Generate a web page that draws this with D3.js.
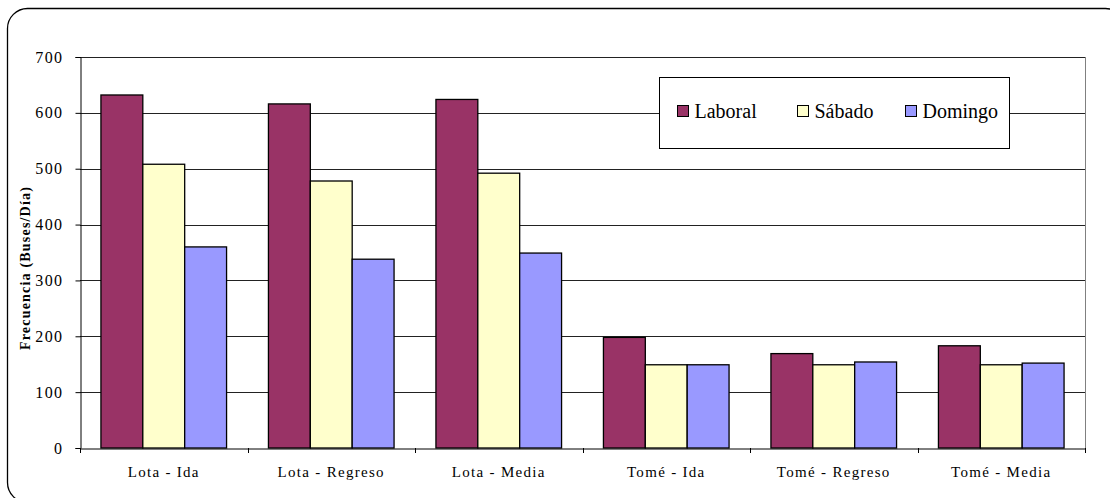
<!DOCTYPE html>
<html>
<head>
<meta charset="utf-8">
<script src="https://cdn.jsdelivr.net/npm/d3@7"></script>
<style>
  body { margin: 0; background: #fff; }
</style>
</head>
<body>
<div id="chart"></div>
<script>
    var categories = ["Lota - Ida", "Lota - Regreso", "Lota - Media", "Tomé - Ida", "Tomé - Regreso", "Tomé - Media"];
    var seriesNames = ["Laboral", "Sábado", "Domingo"];
    var laboral = [632, 616, 624, 198, 169, 183];
    var sabado = [508, 478, 492, 149, 149, 149];
    var domingo = [360, 338, 349, 149, 154, 152];
    var yTicks = [0, 100, 200, 300, 400, 500, 600, 700];
    var colors = ["#993366", "#FFFFCC", "#9999FF"];

    var serif = "'Liberation Serif', 'Times New Roman', serif";
    var width = 1110, height = 498;
    var margin = { left: 80, right: 25, top: 57, bottom: 50 };

    var svg = d3.select("#chart").append("svg")
        .attr("width", width)
        .attr("height", height);

    // chart frame (rounded, runs off right and bottom)
    svg.append("rect")
        .attr("x", 7.5).attr("y", 8.5)
        .attr("width", 1118).attr("height", 494)
        .attr("rx", 20).attr("ry", 20)
        .attr("fill", "none").attr("stroke", "#000").attr("stroke-width", 1.3);

    var x0 = d3.scaleBand().domain(categories).range([margin.left, width - margin.right]).padding(0);
    var bw = x0.bandwidth();
    var x1 = d3.scaleBand().domain(seriesNames).range([bw / 8, bw * 7 / 8]).padding(0);
    var y = d3.scaleLinear().domain([0, 700]).range([height - margin.bottom, margin.top]);

    // gridlines
    svg.append("g").selectAll("line")
        .data(yTicks.slice(1))
        .enter().append("line")
        .attr("x1", margin.left).attr("x2", width - margin.right)
        .attr("y1", function (d) { return Math.round(y(d)) + 0.5; })
        .attr("y2", function (d) { return Math.round(y(d)) + 0.5; })
        .attr("stroke", "#222").attr("stroke-width", 1);

    // plot area right border
    svg.append("line")
        .attr("x1", width - margin.right + 0.5).attr("x2", width - margin.right + 0.5)
        .attr("y1", y(700)).attr("y2", y(0))
        .attr("stroke", "#808080");

    var rows = categories.map(function (c, i) {
        return { cat: c, values: [laboral[i], sabado[i], domingo[i]] };
    });

    var groups = svg.append("g").selectAll("g")
        .data(rows)
        .enter().append("g")
        .attr("transform", function (d) { return "translate(" + x0(d.cat) + ",0)"; });

    groups.selectAll("rect")
        .data(function (d) { return d.values.map(function (v, j) { return { name: seriesNames[j], value: v, j: j }; }); })
        .enter().append("rect")
        .attr("x", function (d) { return x1(d.name); })
        .attr("width", x1.bandwidth())
        .attr("y", function (d) { return y(d.value); })
        .attr("height", function (d) { return y(0) - y(d.value); })
        .attr("fill", function (d) { return colors[d.j]; })
        .attr("stroke", "#000").attr("stroke-width", 1.3);

    // y axis
    var yAxis = svg.append("g")
        .attr("transform", "translate(" + (margin.left + 0.5) + ",0)")
        .call(d3.axisLeft(y).tickValues(yTicks).tickSize(5).tickPadding(12));
    yAxis.attr("font-family", null);
    yAxis.select(".domain").attr("stroke", "#000");
    yAxis.selectAll("text").style("font-family", serif).style("font-size", "16px")
        .style("letter-spacing", "1.4px").attr("fill", "#000");

    // x axis
    var xAxis = svg.append("g")
        .attr("transform", "translate(0," + (y(0) + 0.5) + ")")
        .call(d3.axisBottom(x0).tickSize(0).tickPadding(18));
    xAxis.attr("font-family", null);
    xAxis.select(".domain").attr("stroke", "#000");
    xAxis.selectAll("text").style("font-family", serif).style("font-size", "15px")
        .style("letter-spacing", "1.3px").attr("fill", "#000");

    // category separators on x axis
    svg.append("g").selectAll("line")
        .data(d3.range(categories.length + 1))
        .enter().append("line")
        .attr("x1", function (i) { return Math.round(margin.left + i * bw) + 0.5; })
        .attr("x2", function (i) { return Math.round(margin.left + i * bw) + 0.5; })
        .attr("y1", y(0)).attr("y2", y(0) + 5)
        .attr("stroke", "#000");

    // y axis title
    svg.append("text")
        .attr("transform", "translate(30,268) rotate(-90)")
        .attr("text-anchor", "middle")
        .style("font-family", serif)
        .style("font-size", "14px").style("font-weight", "bold")
        .style("letter-spacing", "1.2px")
        .text("Frecuencia (Buses/Día)");

    // legend
    var legend = svg.append("g").attr("transform", "translate(659.5,77.5)");
    legend.append("rect")
        .attr("width", 350).attr("height", 71)
        .attr("fill", "#fff").attr("stroke", "#000");
    var legendX = [18, 138, 246];
    seriesNames.forEach(function (name, i) {
        legend.append("rect")
            .attr("x", legendX[i]).attr("y", 28)
            .attr("width", 11).attr("height", 11)
            .attr("fill", colors[i]).attr("stroke", "#000");
        legend.append("text")
            .attr("x", legendX[i] + 17).attr("y", 40)
            .style("font-family", serif)
            .style("font-size", "20px")
            .text(name);
    });
</script>
</body>
</html>
